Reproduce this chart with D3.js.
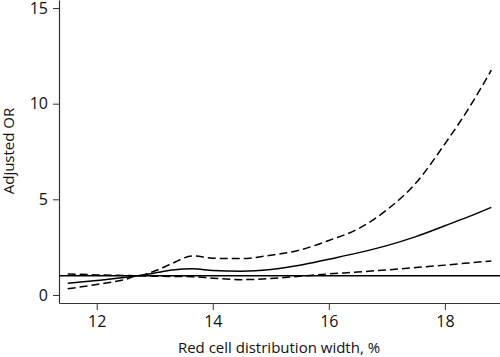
<!DOCTYPE html>
<html>
<head>
<meta charset="utf-8">
<script src="https://cdn.jsdelivr.net/npm/d3@7"></script>
<style>
  html, body { margin: 0; padding: 0; background: #fff; }
  svg { display: block; font-family: "Open Sans", "Noto Sans", sans-serif; }
</style>
</head>
<body>
<svg id="chart" width="500" height="357"></svg>
<script>
// Data
const rdw      = [11.5, 12, 12.5, 12.7, 13, 13.3, 13.65, 14, 14.5, 15, 15.5, 16, 16.5, 17, 17.5, 18, 18.4, 18.8];
const orEst    = [0.61, 0.76, 0.92, 1.0, 1.15, 1.30, 1.37, 1.28, 1.24, 1.33, 1.55, 1.87, 2.20, 2.58, 3.05, 3.62, 4.08, 4.58];
const orUpper  = [1.10, 1.05, 1.02, 1.0, 1.25, 1.65, 2.04, 1.92, 1.90, 2.08, 2.35, 2.85, 3.45, 4.45, 5.85, 7.9, 9.7, 11.75];
const orLower  = [0.32, 0.55, 0.82, 1.0, 0.98, 0.97, 0.95, 0.88, 0.80, 0.86, 0.98, 1.10, 1.20, 1.31, 1.43, 1.56, 1.67, 1.78];
const xTicks   = [12, 14, 16, 18];
const yTicks   = [0, 5, 10, 15];
const refValue = 1;

const svg = d3.select("#chart");
const x = d3.scaleLinear().domain([11.35, 18.95]).range([59, 500]);
const y = d3.scaleLinear().domain([-0.42, 15.42]).range([303, 0]);

// Axes
const xAxis = svg.append("g").attr("transform", "translate(0,303)")
  .call(d3.axisBottom(x).tickValues(xTicks).tickSize(7).tickSizeOuter(0).tickPadding(6));
const yAxis = svg.append("g").attr("transform", "translate(59,0)")
  .call(d3.axisLeft(y).tickValues(yTicks).tickSize(6).tickSizeOuter(0).tickPadding(5));
[xAxis, yAxis].forEach(g => {
  g.selectAll("path.domain").attr("stroke", "#333").attr("stroke-width", 1.2);
  g.selectAll(".tick line").attr("stroke", "#333").attr("stroke-width", 1);
  g.selectAll(".tick text").attr("font-size", 16).attr("fill", "#111").attr("font-family", "'Open Sans', sans-serif");
});

// Axis titles
svg.append("text").attr("x", 279).attr("y", 353).attr("text-anchor", "middle")
  .attr("font-size", 15).attr("fill", "#111").text("Red cell distribution width, %");
svg.append("text").attr("transform", "translate(14,151) rotate(-90)").attr("text-anchor", "middle")
  .attr("font-size", 15).attr("fill", "#111").text("Adjusted OR");

// Reference line
svg.append("line").attr("x1", x(11.35)).attr("x2", 500)
  .attr("y1", y(refValue)).attr("y2", y(refValue))
  .attr("stroke", "#000").attr("stroke-width", 1.5);

const line = d3.line().x(d => x(d[0])).y(d => y(d[1])).curve(d3.curveMonotoneX);
function draw(vals, dash) {
  svg.append("path").datum(rdw.map((r, i) => [r, vals[i]]))
    .attr("d", line).attr("fill", "none").attr("stroke", "#000")
    .attr("stroke-width", 1.5).attr("stroke-dasharray", dash);
}
draw(orUpper, "8,4");
draw(orLower, "8,4");
draw(orEst, null);
</script>
</body>
</html>
